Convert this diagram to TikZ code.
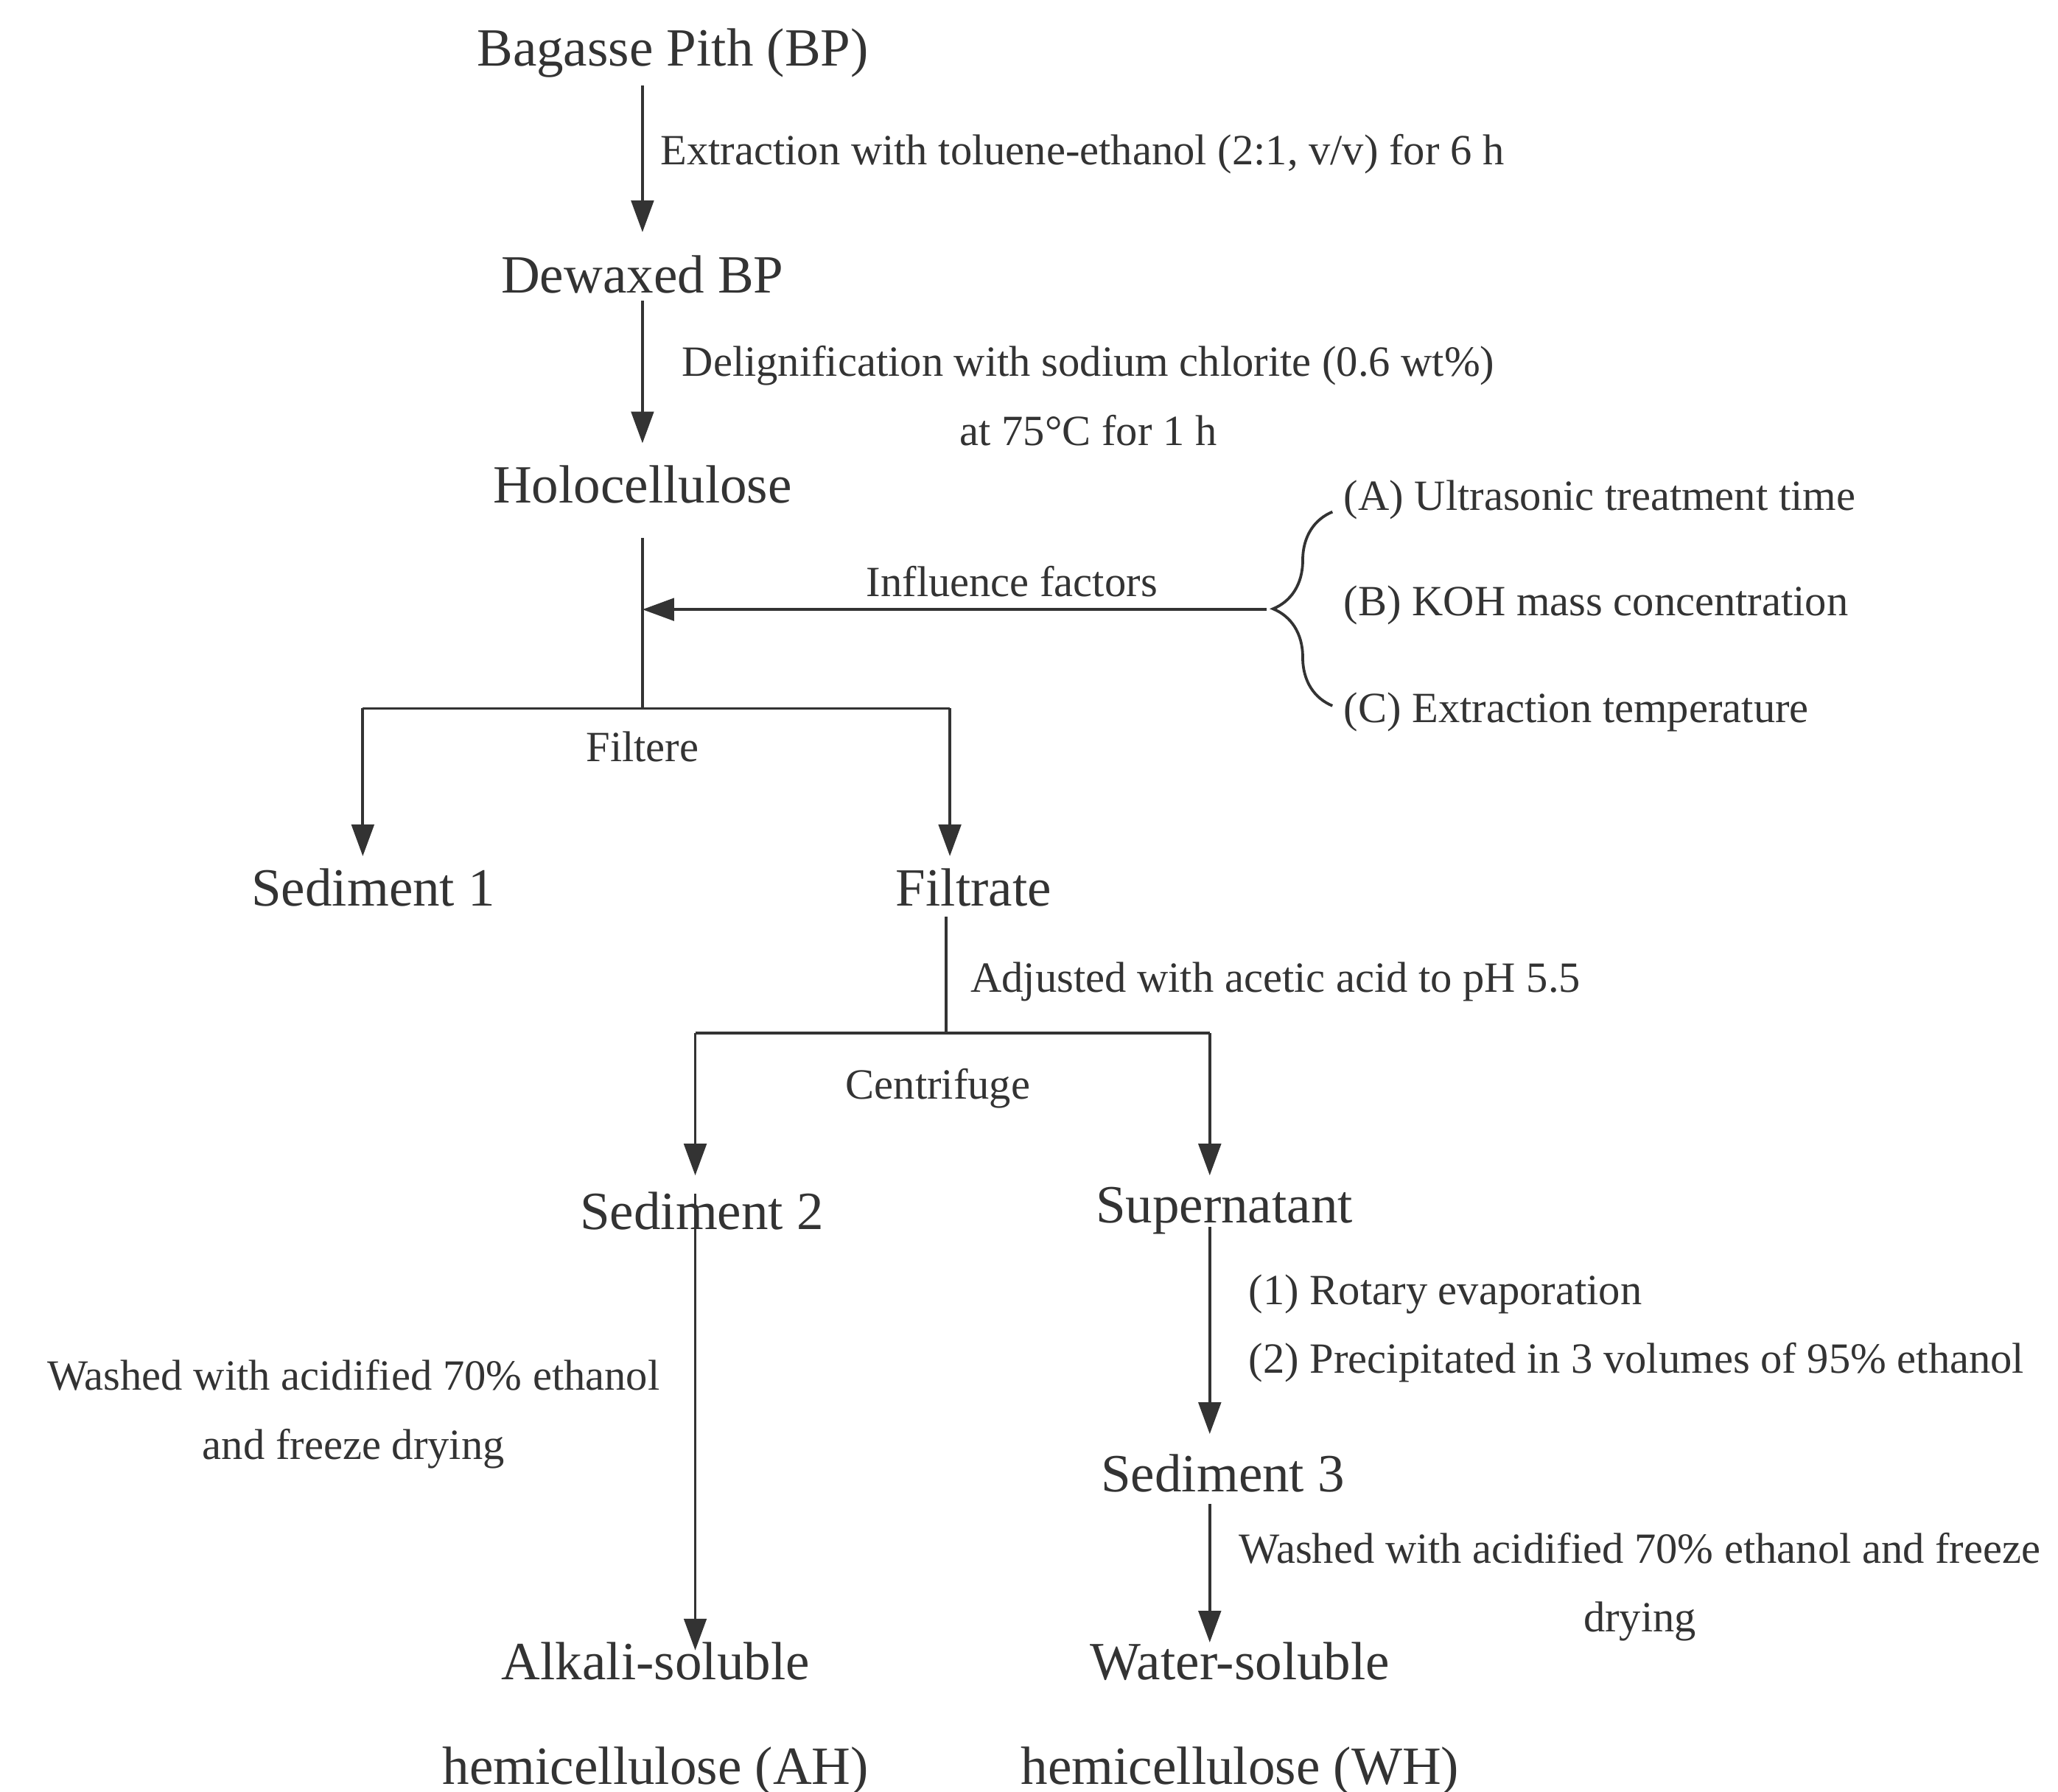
\documentclass[tikz,border=0pt]{standalone}
\usepackage{fontspec}
\setmainfont{Liberation Serif}
\usetikzlibrary{arrows.meta,decorations.pathreplacing}
\definecolor{ink}{HTML}{333333}
\begin{document}
\begin{tikzpicture}[x=0.01cm,y=-0.01cm,
  big/.style={font=\fontsize{11.6}{14.5}\selectfont,text=ink,inner sep=0pt,align=center},
  lab/.style={font=\fontsize{9.3}{12}\selectfont,text=ink,inner sep=0pt},
  ln/.style={draw=ink,line width=0.6pt},
  arr/.style={ln,-{Triangle[length=0.24cm,width=0.17cm]}}]
\useasboundingbox (0,0) rectangle (1560,1358);
\node[big] (bp) at (510,40) {Bagasse Pith (BP)};
\node[big] (dw) at (487,208) {Dewaxed BP};
\node[big] (ho) at (487,367) {Holocellulose};
\node[big] (s1) at (283,673) {Sediment 1};
\node[big] (fi) at (738,673) {Filtrate};
\node[big] (s2) at (532,918) {Sediment 2};
\node[big] (su) at (928,918) {Supernatant};
\node[big] (s3) at (927,1117) {Sediment 3};
\node[big] (ah) at (497,1303) {Alkali-soluble\\[0.28cm]hemicellulose (AH)};
\node[big] (wh) at (940,1303) {Water-soluble\\[0.28cm]hemicellulose (WH)};

\coordinate (a1) at (487,65); \coordinate (a2) at (487,176);
\draw[arr] (a1) -- (a2);
\node[lab,anchor=west] (l1) at (500,117) {Extraction with toluene-ethanol (2:1, v/v) for 6 h};
\coordinate (b1) at (487,228); \coordinate (b2) at (487,336);
\draw[arr] (b1) -- (b2);
\node[lab,align=center] (l2) at (825,300) {Delignification with sodium chlorite (0.6 wt\%)\\[0.1cm]at 75°C for 1 h};

\coordinate (h1) at (487,408); \coordinate (h2) at (487,537);
\coordinate (hm) at (487,462); \coordinate (br) at (960,462);
\draw[ln] (h1) -- (h2);
\draw[arr] (br) -- (hm);
\node[lab] (inf) at (767,441) {Influence factors};
\coordinate (bra) at (1010,535); \coordinate (brb) at (1010,388);
\draw[ln,decorate,decoration={brace,amplitude=0.45cm,aspect=0.5}] (bra) -- (brb);
\node[lab,anchor=west] (fa) at (1018,379) {(A) Ultrasonic treatment time};
\node[lab,anchor=west] (fb) at (1018,459) {(B) KOH mass concentration};
\node[lab,anchor=west] (fc) at (1018,540) {(C) Extraction temperature};

\coordinate (f1) at (275,537); \coordinate (f2) at (720,537);
\coordinate (f1b) at (275,649); \coordinate (f2b) at (720,649);
\draw[ln] (f1) -- (f2);
\draw[arr] (f1) -- (f1b);
\draw[arr] (f2) -- (f2b);
\node[lab] (flt) at (487,566) {Filtere};

\coordinate (g1) at (717,695); \coordinate (g2) at (717,783);
\draw[ln] (g1) -- (g2);
\node[lab,anchor=west] (adj) at (735,744) {Adjusted with acetic acid to pH 5.5};
\coordinate (c1) at (527,783); \coordinate (c2) at (917,783);
\coordinate (c1b) at (527,891); \coordinate (c2b) at (917,891);
\draw[ln] (c1) -- (c2);
\draw[arr] (c1) -- (c1b);
\draw[arr] (c2) -- (c2b);
\node[lab] (cen) at (711,825) {Centrifuge};

\coordinate (d1) at (527,905); \coordinate (d2) at (527,1251);
\draw[arr] (d1) -- (d2);
\node[lab,align=center] (w1) at (268,1072) {Washed with acidified 70\% ethanol\\[0.1cm]and freeze drying};

\coordinate (e1) at (917,930); \coordinate (e2) at (917,1087);
\draw[arr] (e1) -- (e2);
\node[lab,anchor=west,align=left] (rot) at (946,1007) {(1) Rotary evaporation\\[0.1cm](2) Precipitated in 3 volumes of 95\% ethanol};

\coordinate (k1) at (917,1140); \coordinate (k2) at (917,1245);
\draw[arr] (k1) -- (k2);
\node[lab,align=center] (w2) at (1243,1203) {Washed with acidified 70\% ethanol and freeze\\[0.1cm]drying};
\end{tikzpicture}
\end{document}
